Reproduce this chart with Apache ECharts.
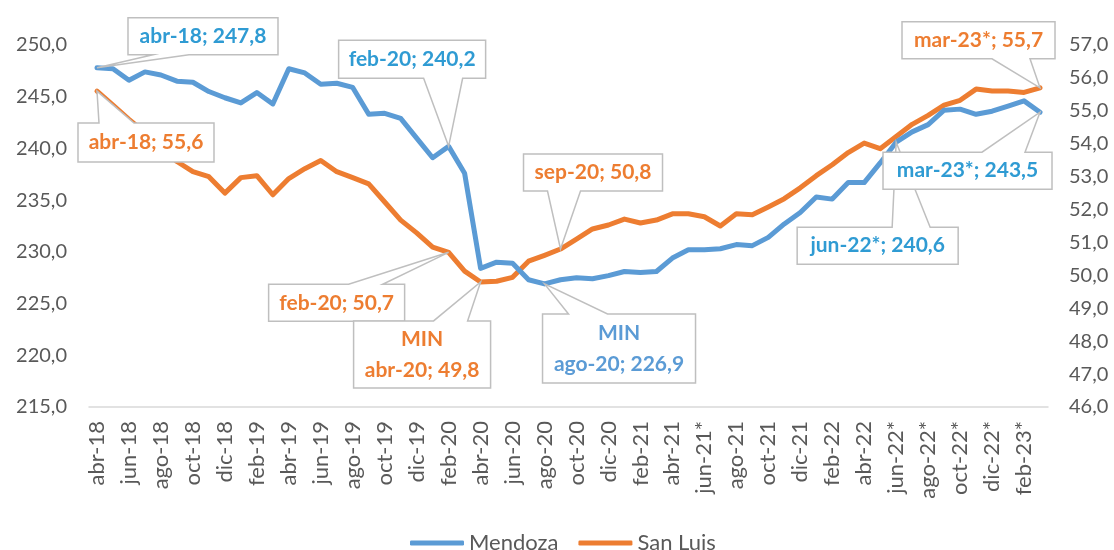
<!DOCTYPE html>
<html>
<head>
<meta charset="utf-8">
<script src="https://cdn.jsdelivr.net/npm/echarts@6/dist/echarts.min.js"></script>
<style>
html,body{margin:0;padding:0;background:#fff;}
#chart{width:1114px;height:550px;}
</style>
</head>
<body>
<div id="chart"></div>
<script>
var categories = [
  'abr-18','may-18','jun-18','jul-18','ago-18','sep-18','oct-18','nov-18','dic-18','ene-19',
  'feb-19','mar-19','abr-19','may-19','jun-19','jul-19','ago-19','sep-19','oct-19','nov-19',
  'dic-19','ene-20','feb-20','mar-20','abr-20','may-20','jun-20','jul-20','ago-20','sep-20',
  'oct-20','nov-20','dic-20','ene-21','feb-21','mar-21','abr-21','may-21','jun-21*','jul-21',
  'ago-21','sep-21','oct-21','nov-21','dic-21','ene-22','feb-22','mar-22','abr-22','may-22',
  'jun-22*','jul-22*','ago-22*','sep-22*','oct-22*','nov-22*','dic-22*','ene-23*','feb-23*','mar-23*'
];
var mendoza = [
  247.8,247.7,246.6,247.4,247.1,246.5,246.4,245.5,244.9,244.4,
  245.4,244.3,247.7,247.3,246.2,246.3,245.9,243.3,243.4,242.9,
  241.0,239.1,240.2,237.6,228.4,229.0,228.9,227.3,226.9,227.3,
  227.5,227.4,227.7,228.1,228.0,228.1,229.4,230.2,230.2,230.3,
  230.7,230.6,231.4,232.7,233.8,235.3,235.1,236.7,236.7,238.6,
  240.6,241.6,242.3,243.7,243.8,243.3,243.6,244.1,244.6,243.5
];
var sanLuis = [
  55.6,55.17,54.74,54.34,53.88,53.46,53.15,53.0,52.5,52.97,
  53.03,52.45,52.94,53.24,53.49,53.15,52.97,52.78,52.23,51.68,
  51.29,50.86,50.7,50.13,49.8,49.82,49.94,50.43,50.61,50.8,
  51.1,51.41,51.53,51.71,51.59,51.68,51.87,51.87,51.78,51.5,
  51.87,51.84,52.08,52.33,52.66,53.03,53.36,53.73,54.02,53.85,
  54.22,54.59,54.86,55.17,55.32,55.66,55.6,55.6,55.56,55.7
];
var leftAxis = {min: 215, max: 250, interval: 5};
var rightAxis = {min: 46, max: 57, interval: 1};
var seriesNames = ['Mendoza', 'San Luis'];

// callouts: series index, data index, text lines (prefix), box layout relative to point
var callouts = [
  {s:0, i:0,  pre:'',    col:'#2F9BD3', box:[31,181,-50,-13], side:'bottom', base:[56,92]},
  {s:0, i:22, pre:'',    col:'#2F9BD3', box:[-110,37,-106,-68], side:'bottom', base:[-25,14]},
  {s:1, i:0,  pre:'',    col:'#ED7D31', box:[-19,117,32,71], side:'top', base:[2,37]},
  {s:1, i:22, pre:'',    col:'#ED7D31', box:[-180,-44,32,69], side:'top', base:[-100,-66]},
  {s:1, i:24, pre:'MIN', col:'#ED7D31', box:[-127,10,39,106], side:'top', base:[-47,-13]},
  {s:1, i:29, pre:'',    col:'#ED7D31', box:[-37,102,-95,-58], side:'bottom', base:[-13,20]},
  {s:0, i:28, pre:'MIN', col:'#5B9BD5', box:[-2,151,30,99], side:'top', base:[24,63]},
  {s:1, i:59, pre:'',    col:'#ED7D31', box:[-138,15,-66,-29], side:'bottom', base:[-48,-10]},
  {s:0, i:50, pre:'',    col:'#2F9BD3', box:[-99,62,85,122], side:'top', base:[-4,34]},
  {s:0, i:59, pre:'',    col:'#2F9BD3', box:[-157,12,40,77], side:'top', base:[-58,-15]}
];

function fmt(v){ return v.toFixed(1).replace('.', ','); }

var FONT = 'Lato, "Open Sans", sans-serif';
var chart = echarts.init(document.getElementById('chart'), null, {renderer:'canvas'});
var option = {
  animation: false,
  backgroundColor: '#ffffff',
  grid: {left: 89, right: 66, top: 45, bottom: 143, containLabel: false},
  legend: {
    data: seriesNames,
    left: 405, top: 527,
    icon: 'roundRect',
    itemWidth: 54, itemHeight: 5,
    itemGap: 20,
    textStyle: {fontFamily: FONT, fontSize: 22, color: '#595959'}
  },
  xAxis: {
    type: 'category',
    data: categories,
    boundaryGap: true,
    axisLine: {show: true, lineStyle: {color: '#d9d9d9', width: 1.5}},
    axisTick: {show: false},
    axisLabel: {rotate: 90, interval: 1, margin: 14, fontFamily: FONT, fontSize: 22, color: '#595959'},
    splitLine: {show: false}
  },
  yAxis: [
    {type: 'value', min: leftAxis.min, max: leftAxis.max, interval: leftAxis.interval,
     axisLine: {show: false}, axisTick: {show: false}, splitLine: {show: false},
     axisLabel: {formatter: fmt, margin: 22, fontFamily: FONT, fontSize: 20, color: '#595959'}},
    {type: 'value', min: rightAxis.min, max: rightAxis.max, interval: rightAxis.interval,
     position: 'right',
     axisLine: {show: false}, axisTick: {show: false}, splitLine: {show: false},
     axisLabel: {formatter: fmt, margin: 21, fontFamily: FONT, fontSize: 20, color: '#595959'}}
  ],
  series: [
    {name: seriesNames[0], type: 'line', yAxisIndex: 0, data: mendoza, symbol: 'none',
     lineStyle: {width: 5, color: '#5B9BD5', join: 'round', cap: 'round'}, itemStyle: {color: '#5B9BD5'}, z: 3},
    {name: seriesNames[1], type: 'line', yAxisIndex: 1, data: sanLuis, symbol: 'none',
     lineStyle: {width: 5, color: '#ED7D31', join: 'round', cap: 'round'}, itemStyle: {color: '#ED7D31'}, z: 2}
  ]
};
chart.setOption(option);

var graphics = [];
callouts.forEach(function(c, k){
  var data = c.s === 0 ? mendoza : sanLuis;
  var p = chart.convertToPixel({xAxisIndex: 0, yAxisIndex: c.s}, [c.i, data[c.i]]);
  var tx = p[0], ty = p[1];
  var x0 = tx + c.box[0], x1 = tx + c.box[1], y0 = ty + c.box[2], y1 = ty + c.box[3];
  var b0 = tx + c.base[0], b1 = tx + c.base[1];
  var pts;
  if (c.side === 'bottom') {
    pts = [[x0,y0],[x1,y0],[x1,y1],[b1,y1],[tx,ty],[b0,y1],[x0,y1]];
  } else {
    pts = [[x0,y0],[b0,y0],[tx,ty],[b1,y0],[x1,y0],[x1,y1],[x0,y1]];
  }
  var label = categories[c.i] + '; ' + fmt(data[c.i]);
  var text = c.pre ? c.pre + '\n' + label : label;
  graphics.push({
    type: 'polygon', z: 100 + k*2,
    shape: {points: pts},
    style: {fill: '#ffffff', stroke: '#bfbfbf', lineWidth: 1.5}
  });
  graphics.push({
    type: 'text', z: 101 + k*2,
    x: (x0 + x1) / 2, y: (y0 + y1) / 2,
    style: {text: text, fill: c.col, font: 'bold 21px ' + FONT, align: 'center', verticalAlign: 'middle', lineHeight: 31}
  });
});
chart.setOption({graphic: graphics});
</script>
</body>
</html>
